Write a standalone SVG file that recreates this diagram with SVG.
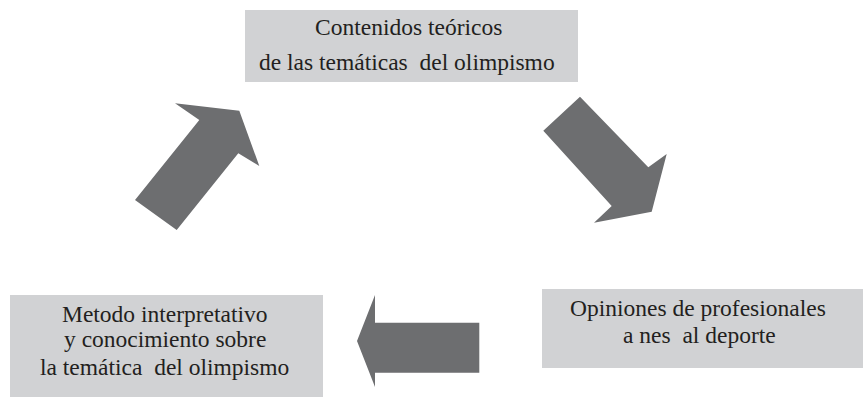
<svg xmlns="http://www.w3.org/2000/svg" width="863" height="397" viewBox="0 0 863 397">
<rect width="863" height="397" fill="#ffffff"/>
<g id="node-contenidos">
<rect x="245" y="10" width="333" height="72" fill="#d1d2d4"/>
<text x="315" y="35" font-size="23.5" font-family="Liberation Serif" fill="#231f20">Contenidos teóricos</text>
<text x="259" y="70" font-size="23.5" font-family="Liberation Serif" fill="#231f20">de las temáticas&#160; del olimpismo</text>
</g>
<g id="node-opiniones">
<rect x="542" y="289" width="321" height="79" fill="#d1d2d4"/>
<text x="570" y="316" font-size="23.5" font-family="Liberation Serif" fill="#231f20">Opiniones de profesionales</text>
<text x="623" y="343" font-size="23.5" font-family="Liberation Serif" fill="#231f20">a nes&#160; al deporte</text>
</g>
<g id="node-metodo">
<rect x="10" y="295" width="313" height="102" fill="#d1d2d4"/>
<text x="62" y="322" font-size="23.5" font-family="Liberation Serif" fill="#231f20">Metodo interpretativo</text>
<text x="64" y="347" font-size="23.5" font-family="Liberation Serif" fill="#231f20">y conocimiento sobre</text>
<text x="40" y="375" font-size="23.5" font-family="Liberation Serif" fill="#231f20">la temática&#160; del olimpismo</text>
</g>
<g id="connectors" fill="#6d6e70">
<polygon points="135,200 176.7,230 238.3,153.3 259.3,166 239.3,110.7 175,103.3 199.3,120"/>
<polygon points="580,96.7 543.3,130.7 611.7,206 594,222.7 651.7,211.7 666.7,154 648.3,167.3"/>
<polygon points="479.3,322.7 479.3,372.7 375,372.7 375,387 357,341 375,295 375,322.7"/>
</g>
</svg>
